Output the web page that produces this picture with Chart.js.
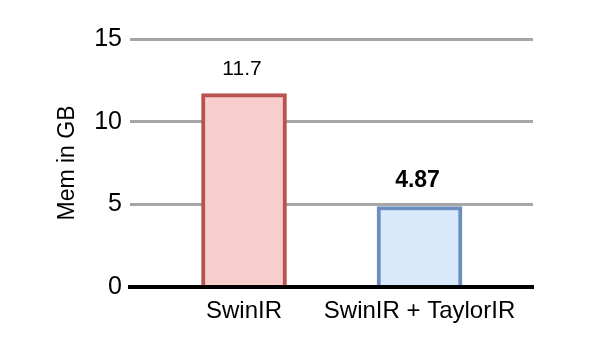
<!DOCTYPE html>
<html>
<head>
<meta charset="utf-8">
<script src="https://cdn.jsdelivr.net/npm/chart.js@4/dist/chart.umd.min.js"></script>
<style>
  html, body { margin: 0; padding: 0; background: #ffffff; }
  #wrap { width: 589px; height: 356px; }
</style>
</head>
<body>
<div id="wrap"><canvas id="c" width="589" height="356"></canvas></div>
<script>
// ---- data ----
const categories = ["SwinIR", "SwinIR + TaylorIR"];
const memValues = [11.7, 4.87];
const valueLabels = ["11.7", "4.87"];
const yTicks = [0, 5, 10, 15];
const axisTitle = "Mem in GB";

// ---- styles ----
const fillColors = ["#f8cecc", "#dae8fc"];
const borderColors = ["#b85450", "#6c8ebf"];
const labelFonts = ["normal 21px 'Liberation Sans', Arial, sans-serif", "bold 23px 'Liberation Sans', Arial, sans-serif"];
const FONT = "'Liberation Sans', Arial, sans-serif";

const valueLabelPlugin = {
  id: 'valueLabels',
  afterDatasetsDraw(chart) {
    const meta = chart.getDatasetMeta(0);
    const ctx = chart.ctx;
    ctx.save();
    ctx.fillStyle = '#000';
    ctx.textAlign = 'center';
    ctx.textBaseline = 'alphabetic';
    meta.data.forEach((el, i) => {
      ctx.font = labelFonts[i];
      ctx.fillText(valueLabels[i], el.x - 2, el.y - 19);
    });
    ctx.restore();
  }
};

new Chart(document.getElementById('c'), {
  type: 'bar',
  data: {
    datasets: [{
      data: categories.map((c, i) => ({ x: i, y: memValues[i] })),
      backgroundColor: fillColors,
      borderColor: borderColors,
      borderWidth: 4,
      barThickness: 85
    }]
  },
  options: {
    responsive: false,
    animation: false,
    devicePixelRatio: 1,
    layout: { padding: { left: 54, right: 56, top: 39, bottom: 0 } },
    plugins: { legend: { display: false }, tooltip: { enabled: false } },
    scales: {
      x: {
        type: 'linear',
        min: -0.6496,
        max: 1.6466,
        offset: false,
        afterBuildTicks(scale) { scale.ticks = categories.map((c, i) => ({ value: i })); },
        afterFit(scale) { scale.height = 69; },
        ticks: {
          callback: (v) => categories[v],
          color: '#000',
          font: { family: FONT, size: 24 },
          padding: 10,
          maxRotation: 0,
          autoSkip: false
        },
        grid: { display: false, drawTicks: false },
        border: { display: true, color: '#000', width: 4 }
      },
      y: {
        min: 0,
        max: 15,
        afterBuildTicks(scale) { scale.ticks = yTicks.map(v => ({ value: v })); },
        afterFit(scale) { scale.width = 76; },
        ticks: {
          color: '#000',
          font: { family: FONT, size: 25 },
          padding: 8
        },
        grid: {
          drawTicks: false,
          color: (ctx) => ctx.tick && ctx.tick.value === 0 ? '#000' : '#a6a6a6',
          lineWidth: (ctx) => ctx.tick && ctx.tick.value === 0 ? 4 : 3
        },
        border: { display: false },
        title: {
          display: true,
          text: axisTitle,
          color: '#000',
          font: { family: FONT, size: 23 },
          padding: 0
        }
      }
    }
  },
  plugins: [valueLabelPlugin]
});
</script>
</body>
</html>
